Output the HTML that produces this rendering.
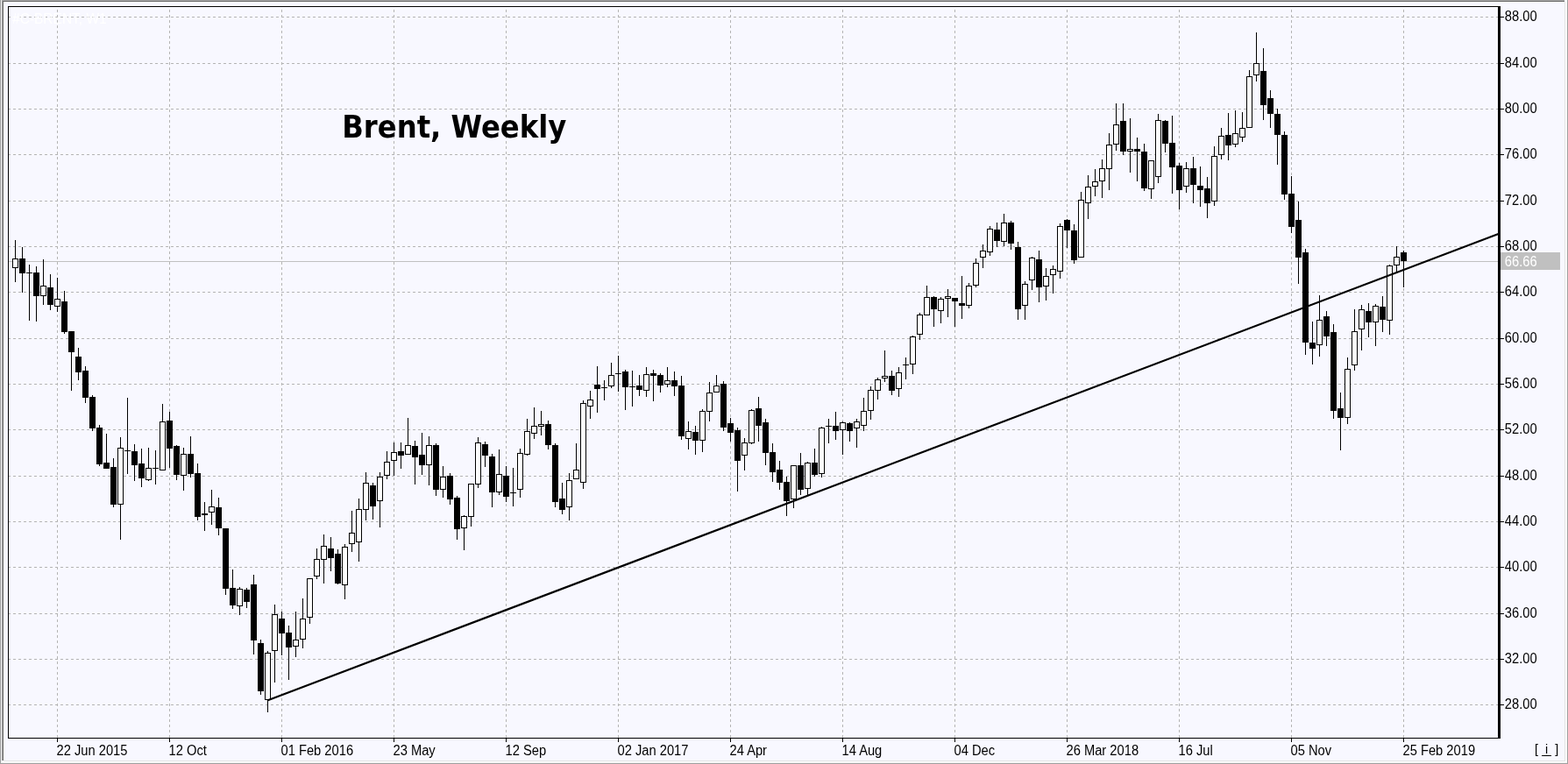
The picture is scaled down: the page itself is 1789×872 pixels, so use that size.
<!DOCTYPE html>
<html lang="en"><head><meta charset="utf-8"><title>Brent, Weekly</title>
<style>
html,body{margin:0;padding:0;background:#f8f8ff;overflow:hidden}
svg{display:block}
.ax{font-family:"Liberation Sans",Arial,sans-serif;font-size:16px;fill:#000}
.ttl{font-family:"DejaVu Sans Condensed","DejaVu Sans",sans-serif;font-weight:bold;font-size:35px;fill:#000}
</style></head><body>
<svg width="1789" height="872" viewBox="0 0 1789 872">
<rect x="0" y="0" width="1789" height="872" fill="#f8f8ff"/>
<g shape-rendering="crispEdges">
<rect x="0" y="0" width="1785" height="1" fill="#a8a8a8"/>
<rect x="3" y="1" width="1782" height="1" fill="#696969"/>
<rect x="4" y="2" width="1781" height="1" fill="#ffffff"/>
<rect x="0" y="0" width="1" height="872" fill="#a0a0a0"/>
<rect x="1" y="0" width="1" height="871" fill="#f0f0f0"/>
<rect x="2" y="1" width="1" height="867" fill="#a0a0a0"/>
<rect x="3" y="1" width="1" height="867" fill="#696969"/>
<rect x="4" y="2" width="1" height="866" fill="#ffffff"/>
<rect x="1785" y="2" width="1" height="867" fill="#e3e3e3"/>
<rect x="1786" y="0" width="2" height="871" fill="#ffffff"/>
<rect x="1788" y="0" width="1" height="872" fill="#a0a0a0"/>
<rect x="4" y="868" width="1782" height="1" fill="#e3e3e3"/>
<rect x="2" y="869" width="1786" height="1" fill="#ffffff"/>
<rect x="1" y="870" width="1787" height="1" fill="#f2f2f2"/>
<rect x="0" y="871" width="1789" height="1" fill="#a0a0a0"/>
</g>
<g shape-rendering="crispEdges" stroke="#b4b4b4" stroke-width="1" stroke-dasharray="3 3" fill="none">
<path d="M9 19.5H1709"/>
<path d="M9 72.5H1709"/>
<path d="M9 124.5H1709"/>
<path d="M9 176.5H1709"/>
<path d="M9 229.5H1709"/>
<path d="M9 281.5H1709"/>
<path d="M9 333.5H1709"/>
<path d="M9 386.5H1709"/>
<path d="M9 438.5H1709"/>
<path d="M9 490.5H1709"/>
<path d="M9 543.5H1709"/>
<path d="M9 595.5H1709"/>
<path d="M9 647.5H1709"/>
<path d="M9 700.5H1709"/>
<path d="M9 752.5H1709"/>
<path d="M9 804.5H1709"/>
<path d="M65.5 11V842"/>
<path d="M193.5 11V842"/>
<path d="M321.5 11V842"/>
<path d="M449.5 11V842"/>
<path d="M577.5 11V842"/>
<path d="M705.5 11V842"/>
<path d="M833.5 11V842"/>
<path d="M961.5 11V842"/>
<path d="M1089.5 11V842"/>
<path d="M1217.5 11V842"/>
<path d="M1345.5 11V842"/>
<path d="M1473.5 11V842"/>
<path d="M1601.5 11V842"/>
</g>
<text class="ax" transform="translate(14,27.2) scale(.97,1)" style="fill:#ffffff">#C-BRENT, W1</text>
<rect x="10" y="298" width="1699" height="1" fill="#c0c0c0" shape-rendering="crispEdges"/>
<g shape-rendering="crispEdges">
<g fill="#000"><rect x="17" y="274" width="1" height="48"/><rect x="25" y="282" width="1" height="52"/><rect x="33" y="302" width="1" height="64"/><rect x="41" y="304" width="1" height="63"/><rect x="49" y="296" width="1" height="52"/><rect x="57" y="313" width="1" height="41"/><rect x="65" y="317" width="1" height="39"/><rect x="73" y="332" width="1" height="49"/><rect x="81" y="378" width="1" height="68"/><rect x="89" y="397" width="1" height="37"/><rect x="97" y="418" width="1" height="42"/><rect x="105" y="451" width="1" height="41"/><rect x="113" y="485" width="1" height="47"/><rect x="121" y="495" width="1" height="40"/><rect x="129" y="523" width="1" height="56"/><rect x="137" y="499" width="1" height="117"/><rect x="145" y="454" width="1" height="87"/><rect x="153" y="507" width="1" height="42"/><rect x="161" y="512" width="1" height="44"/><rect x="169" y="511" width="1" height="38"/><rect x="177" y="514" width="1" height="39"/><rect x="185" y="461" width="1" height="76"/><rect x="193" y="470" width="1" height="64"/><rect x="201" y="508" width="1" height="40"/><rect x="209" y="511" width="1" height="49"/><rect x="217" y="498" width="1" height="47"/><rect x="225" y="529" width="1" height="65"/><rect x="233" y="573" width="1" height="33"/><rect x="241" y="559" width="1" height="40"/><rect x="249" y="568" width="1" height="43"/><rect x="257" y="603" width="1" height="76"/><rect x="265" y="650" width="1" height="45"/><rect x="273" y="670" width="1" height="32"/><rect x="281" y="671" width="1" height="23"/><rect x="289" y="656" width="1" height="91"/><rect x="297" y="730" width="1" height="63"/><rect x="305" y="743" width="1" height="70"/><rect x="313" y="690" width="1" height="89"/><rect x="321" y="698" width="1" height="50"/><rect x="329" y="714" width="1" height="62"/><rect x="337" y="698" width="1" height="52"/><rect x="345" y="683" width="1" height="57"/><rect x="353" y="660" width="1" height="52"/><rect x="361" y="626" width="1" height="35"/><rect x="369" y="610" width="1" height="56"/><rect x="377" y="613" width="1" height="39"/><rect x="385" y="627" width="1" height="40"/><rect x="393" y="621" width="1" height="63"/><rect x="401" y="583" width="1" height="47"/><rect x="409" y="569" width="1" height="72"/><rect x="417" y="539" width="1" height="55"/><rect x="425" y="551" width="1" height="42"/><rect x="433" y="539" width="1" height="63"/><rect x="441" y="515" width="1" height="32"/><rect x="449" y="505" width="1" height="38"/><rect x="457" y="505" width="1" height="30"/><rect x="465" y="477" width="1" height="42"/><rect x="473" y="503" width="1" height="50"/><rect x="481" y="494" width="1" height="48"/><rect x="489" y="498" width="1" height="56"/><rect x="497" y="506" width="1" height="60"/><rect x="505" y="532" width="1" height="36"/><rect x="513" y="540" width="1" height="36"/><rect x="521" y="566" width="1" height="50"/><rect x="529" y="588" width="1" height="40"/><rect x="537" y="552" width="1" height="49"/><rect x="545" y="499" width="1" height="58"/><rect x="553" y="504" width="1" height="29"/><rect x="561" y="518" width="1" height="61"/><rect x="569" y="513" width="1" height="52"/><rect x="577" y="532" width="1" height="41"/><rect x="585" y="534" width="1" height="44"/><rect x="593" y="512" width="1" height="56"/><rect x="601" y="478" width="1" height="42"/><rect x="609" y="465" width="1" height="36"/><rect x="617" y="469" width="1" height="28"/><rect x="625" y="480" width="1" height="33"/><rect x="633" y="506" width="1" height="73"/><rect x="641" y="551" width="1" height="36"/><rect x="649" y="540" width="1" height="54"/><rect x="657" y="506" width="1" height="41"/><rect x="665" y="457" width="1" height="101"/><rect x="673" y="446" width="1" height="32"/><rect x="681" y="418" width="1" height="53"/><rect x="689" y="434" width="1" height="23"/><rect x="697" y="414" width="1" height="29"/><rect x="705" y="406" width="1" height="41"/><rect x="713" y="422" width="1" height="46"/><rect x="721" y="423" width="1" height="41"/><rect x="729" y="428" width="1" height="24"/><rect x="737" y="419" width="1" height="34"/><rect x="745" y="422" width="1" height="36"/><rect x="753" y="426" width="1" height="22"/><rect x="761" y="419" width="1" height="23"/><rect x="769" y="424" width="1" height="28"/><rect x="777" y="429" width="1" height="73"/><rect x="785" y="481" width="1" height="32"/><rect x="793" y="486" width="1" height="33"/><rect x="801" y="467" width="1" height="49"/><rect x="809" y="436" width="1" height="45"/><rect x="817" y="428" width="1" height="20"/><rect x="825" y="435" width="1" height="57"/><rect x="833" y="477" width="1" height="27"/><rect x="841" y="488" width="1" height="73"/><rect x="849" y="500" width="1" height="37"/><rect x="857" y="467" width="1" height="40"/><rect x="865" y="453" width="1" height="51"/><rect x="873" y="478" width="1" height="53"/><rect x="881" y="506" width="1" height="44"/><rect x="889" y="526" width="1" height="33"/><rect x="897" y="544" width="1" height="45"/><rect x="905" y="531" width="1" height="49"/><rect x="913" y="517" width="1" height="48"/><rect x="921" y="527" width="1" height="38"/><rect x="929" y="512" width="1" height="32"/><rect x="937" y="487" width="1" height="58"/><rect x="945" y="478" width="1" height="28"/><rect x="953" y="470" width="1" height="32"/><rect x="961" y="481" width="1" height="38"/><rect x="969" y="482" width="1" height="22"/><rect x="977" y="478" width="1" height="33"/><rect x="985" y="454" width="1" height="38"/><rect x="993" y="441" width="1" height="38"/><rect x="1001" y="431" width="1" height="25"/><rect x="1009" y="400" width="1" height="36"/><rect x="1017" y="423" width="1" height="28"/><rect x="1025" y="419" width="1" height="34"/><rect x="1033" y="408" width="1" height="25"/><rect x="1041" y="383" width="1" height="44"/><rect x="1049" y="357" width="1" height="31"/><rect x="1057" y="326" width="1" height="34"/><rect x="1065" y="338" width="1" height="35"/><rect x="1073" y="339" width="1" height="30"/><rect x="1081" y="330" width="1" height="32"/><rect x="1089" y="340" width="1" height="33"/><rect x="1097" y="315" width="1" height="49"/><rect x="1105" y="323" width="1" height="29"/><rect x="1113" y="295" width="1" height="33"/><rect x="1121" y="279" width="1" height="27"/><rect x="1129" y="258" width="1" height="34"/><rect x="1137" y="254" width="1" height="28"/><rect x="1145" y="244" width="1" height="37"/><rect x="1153" y="252" width="1" height="33"/><rect x="1161" y="276" width="1" height="89"/><rect x="1169" y="321" width="1" height="44"/><rect x="1177" y="293" width="1" height="38"/><rect x="1185" y="286" width="1" height="59"/><rect x="1193" y="306" width="1" height="37"/><rect x="1201" y="303" width="1" height="32"/><rect x="1209" y="255" width="1" height="63"/><rect x="1217" y="250" width="1" height="33"/><rect x="1225" y="256" width="1" height="45"/><rect x="1233" y="219" width="1" height="75"/><rect x="1241" y="200" width="1" height="50"/><rect x="1249" y="193" width="1" height="31"/><rect x="1257" y="182" width="1" height="44"/><rect x="1265" y="152" width="1" height="65"/><rect x="1273" y="118" width="1" height="54"/><rect x="1281" y="118" width="1" height="59"/><rect x="1289" y="135" width="1" height="62"/><rect x="1297" y="157" width="1" height="50"/><rect x="1305" y="164" width="1" height="54"/><rect x="1313" y="183" width="1" height="44"/><rect x="1321" y="130" width="1" height="79"/><rect x="1329" y="137" width="1" height="37"/><rect x="1337" y="132" width="1" height="89"/><rect x="1345" y="186" width="1" height="53"/><rect x="1353" y="185" width="1" height="35"/><rect x="1361" y="179" width="1" height="53"/><rect x="1369" y="190" width="1" height="46"/><rect x="1377" y="202" width="1" height="47"/><rect x="1385" y="167" width="1" height="68"/><rect x="1393" y="146" width="1" height="36"/><rect x="1401" y="129" width="1" height="54"/><rect x="1409" y="126" width="1" height="42"/><rect x="1417" y="128" width="1" height="34"/><rect x="1425" y="80" width="1" height="66"/><rect x="1433" y="37" width="1" height="56"/><rect x="1441" y="55" width="1" height="82"/><rect x="1449" y="103" width="1" height="43"/><rect x="1457" y="124" width="1" height="64"/><rect x="1465" y="150" width="1" height="78"/><rect x="1473" y="201" width="1" height="65"/><rect x="1481" y="230" width="1" height="94"/><rect x="1489" y="284" width="1" height="121"/><rect x="1497" y="367" width="1" height="49"/><rect x="1505" y="337" width="1" height="70"/><rect x="1513" y="355" width="1" height="40"/><rect x="1521" y="370" width="1" height="108"/><rect x="1529" y="448" width="1" height="66"/><rect x="1537" y="408" width="1" height="76"/><rect x="1545" y="353" width="1" height="70"/><rect x="1553" y="348" width="1" height="52"/><rect x="1561" y="346" width="1" height="39"/><rect x="1569" y="347" width="1" height="48"/><rect x="1577" y="338" width="1" height="41"/><rect x="1585" y="302" width="1" height="80"/><rect x="1593" y="281" width="1" height="31"/><rect x="1601" y="286" width="1" height="42"/></g>
<g fill="#000"><rect x="22" y="295" width="7" height="17"/><rect x="30" y="311" width="7" height="1"/><rect x="38" y="311" width="7" height="27"/><rect x="54" y="328" width="7" height="20"/><rect x="70" y="344" width="7" height="35"/><rect x="78" y="378" width="7" height="24"/><rect x="86" y="407" width="7" height="18"/><rect x="94" y="423" width="7" height="31"/><rect x="102" y="453" width="7" height="36"/><rect x="110" y="488" width="7" height="42"/><rect x="118" y="528" width="7" height="7"/><rect x="126" y="533" width="7" height="43"/><rect x="142" y="514" width="7" height="1"/><rect x="150" y="515" width="7" height="16"/><rect x="158" y="529" width="7" height="17"/><rect x="174" y="534" width="7" height="1"/><rect x="190" y="480" width="7" height="32"/><rect x="198" y="509" width="7" height="33"/><rect x="214" y="518" width="7" height="23"/><rect x="222" y="540" width="7" height="50"/><rect x="230" y="586" width="7" height="2"/><rect x="246" y="579" width="7" height="24"/><rect x="254" y="603" width="7" height="69"/><rect x="262" y="671" width="7" height="20"/><rect x="278" y="673" width="7" height="14"/><rect x="286" y="667" width="7" height="64"/><rect x="294" y="734" width="7" height="55"/><rect x="318" y="706" width="7" height="17"/><rect x="326" y="722" width="7" height="17"/><rect x="374" y="626" width="7" height="11"/><rect x="382" y="632" width="7" height="34"/><rect x="422" y="554" width="7" height="24"/><rect x="454" y="515" width="7" height="5"/><rect x="470" y="509" width="7" height="13"/><rect x="478" y="519" width="7" height="12"/><rect x="494" y="508" width="7" height="51"/><rect x="510" y="543" width="7" height="27"/><rect x="518" y="568" width="7" height="36"/><rect x="550" y="507" width="7" height="13"/><rect x="558" y="521" width="7" height="41"/><rect x="574" y="543" width="7" height="24"/><rect x="582" y="562" width="7" height="1"/><rect x="622" y="484" width="7" height="24"/><rect x="630" y="508" width="7" height="65"/><rect x="638" y="569" width="7" height="13"/><rect x="678" y="439" width="7" height="5"/><rect x="686" y="442" width="7" height="1"/><rect x="702" y="426" width="7" height="1"/><rect x="710" y="424" width="7" height="18"/><rect x="718" y="441" width="7" height="1"/><rect x="726" y="440" width="7" height="5"/><rect x="742" y="426" width="7" height="3"/><rect x="750" y="428" width="7" height="12"/><rect x="766" y="434" width="7" height="7"/><rect x="774" y="440" width="7" height="58"/><rect x="790" y="493" width="7" height="10"/><rect x="822" y="438" width="7" height="50"/><rect x="830" y="483" width="7" height="11"/><rect x="838" y="491" width="7" height="35"/><rect x="862" y="466" width="7" height="20"/><rect x="870" y="482" width="7" height="35"/><rect x="878" y="516" width="7" height="23"/><rect x="886" y="536" width="7" height="15"/><rect x="894" y="550" width="7" height="22"/><rect x="910" y="531" width="7" height="28"/><rect x="926" y="528" width="7" height="14"/><rect x="942" y="486" width="7" height="1"/><rect x="950" y="486" width="7" height="6"/><rect x="966" y="483" width="7" height="9"/><rect x="1014" y="429" width="7" height="17"/><rect x="1030" y="416" width="7" height="1"/><rect x="1062" y="339" width="7" height="14"/><rect x="1086" y="340" width="7" height="4"/><rect x="1094" y="346" width="7" height="3"/><rect x="1134" y="262" width="7" height="13"/><rect x="1150" y="254" width="7" height="24"/><rect x="1158" y="282" width="7" height="71"/><rect x="1182" y="296" width="7" height="32"/><rect x="1214" y="251" width="7" height="12"/><rect x="1222" y="263" width="7" height="34"/><rect x="1278" y="138" width="7" height="35"/><rect x="1294" y="170" width="7" height="3"/><rect x="1302" y="173" width="7" height="42"/><rect x="1326" y="138" width="7" height="26"/><rect x="1334" y="163" width="7" height="28"/><rect x="1342" y="189" width="7" height="28"/><rect x="1358" y="192" width="7" height="19"/><rect x="1366" y="212" width="7" height="5"/><rect x="1374" y="215" width="7" height="17"/><rect x="1398" y="154" width="7" height="12"/><rect x="1438" y="81" width="7" height="39"/><rect x="1446" y="112" width="7" height="18"/><rect x="1454" y="130" width="7" height="24"/><rect x="1462" y="154" width="7" height="68"/><rect x="1470" y="221" width="7" height="38"/><rect x="1478" y="251" width="7" height="43"/><rect x="1486" y="288" width="7" height="103"/><rect x="1494" y="391" width="7" height="7"/><rect x="1510" y="361" width="7" height="23"/><rect x="1518" y="379" width="7" height="90"/><rect x="1526" y="466" width="7" height="11"/><rect x="1558" y="355" width="7" height="13"/><rect x="1574" y="350" width="7" height="15"/><rect x="1598" y="288" width="7" height="10"/></g>
<g fill="#fff" stroke="#000" stroke-width="1"><rect x="14.5" y="295.5" width="6" height="10"/><rect x="46.5" y="326.5" width="6" height="11"/><rect x="62.5" y="341.5" width="6" height="8"/><rect x="134.5" y="511.5" width="6" height="64"/><rect x="166.5" y="534.5" width="6" height="13"/><rect x="182.5" y="481.5" width="6" height="55"/><rect x="206.5" y="518.5" width="6" height="24"/><rect x="238.5" y="578.5" width="6" height="6"/><rect x="270.5" y="672.5" width="6" height="19"/><rect x="302.5" y="745.5" width="6" height="53"/><rect x="310.5" y="701.5" width="6" height="41"/><rect x="334.5" y="730.5" width="6" height="7"/><rect x="342.5" y="706.5" width="6" height="23"/><rect x="350.5" y="660.5" width="6" height="44"/><rect x="358.5" y="638.5" width="6" height="19"/><rect x="366.5" y="623.5" width="6" height="15"/><rect x="390.5" y="624.5" width="6" height="43"/><rect x="398.5" y="608.5" width="6" height="12"/><rect x="406.5" y="581.5" width="6" height="37"/><rect x="414.5" y="551.5" width="6" height="30"/><rect x="430.5" y="544.5" width="6" height="27"/><rect x="438.5" y="527.5" width="6" height="15"/><rect x="446.5" y="516.5" width="6" height="9"/><rect x="462.5" y="508.5" width="6" height="10"/><rect x="486.5" y="508.5" width="6" height="22"/><rect x="502.5" y="544.5" width="6" height="14"/><rect x="526.5" y="589.5" width="6" height="13"/><rect x="534.5" y="552.5" width="6" height="37"/><rect x="542.5" y="505.5" width="6" height="47"/><rect x="566.5" y="541.5" width="6" height="20"/><rect x="590.5" y="517.5" width="6" height="41"/><rect x="598.5" y="492.5" width="6" height="26"/><rect x="606.5" y="486.5" width="6" height="8"/><rect x="614.5" y="484.5" width="6" height="2"/><rect x="646.5" y="548.5" width="6" height="30"/><rect x="654.5" y="536.5" width="6" height="10"/><rect x="662.5" y="460.5" width="6" height="90"/><rect x="670.5" y="456.5" width="6" height="7"/><rect x="694.5" y="428.5" width="6" height="12"/><rect x="734.5" y="427.5" width="6" height="18"/><rect x="758.5" y="434.5" width="6" height="4"/><rect x="782.5" y="492.5" width="6" height="8"/><rect x="798.5" y="469.5" width="6" height="33"/><rect x="806.5" y="448.5" width="6" height="21"/><rect x="814.5" y="440.5" width="6" height="7"/><rect x="846.5" y="505.5" width="6" height="14"/><rect x="854.5" y="468.5" width="6" height="37"/><rect x="902.5" y="531.5" width="6" height="38"/><rect x="918.5" y="528.5" width="6" height="29"/><rect x="934.5" y="488.5" width="6" height="52"/><rect x="958.5" y="482.5" width="6" height="8"/><rect x="974.5" y="481.5" width="6" height="7"/><rect x="982.5" y="469.5" width="6" height="16"/><rect x="990.5" y="445.5" width="6" height="23"/><rect x="998.5" y="433.5" width="6" height="12"/><rect x="1006.5" y="429.5" width="6" height="2"/><rect x="1022.5" y="425.5" width="6" height="18"/><rect x="1038.5" y="384.5" width="6" height="31"/><rect x="1046.5" y="359.5" width="6" height="22"/><rect x="1054.5" y="339.5" width="6" height="20"/><rect x="1070.5" y="341.5" width="6" height="13"/><rect x="1078.5" y="338.5" width="6" height="2"/><rect x="1102.5" y="326.5" width="6" height="22"/><rect x="1110.5" y="300.5" width="6" height="25"/><rect x="1118.5" y="286.5" width="6" height="7"/><rect x="1126.5" y="261.5" width="6" height="26"/><rect x="1142.5" y="254.5" width="6" height="21"/><rect x="1166.5" y="324.5" width="6" height="24"/><rect x="1174.5" y="294.5" width="6" height="25"/><rect x="1190.5" y="315.5" width="6" height="11"/><rect x="1198.5" y="307.5" width="6" height="6"/><rect x="1206.5" y="258.5" width="6" height="51"/><rect x="1230.5" y="228.5" width="6" height="65"/><rect x="1238.5" y="213.5" width="6" height="18"/><rect x="1246.5" y="207.5" width="6" height="5"/><rect x="1254.5" y="192.5" width="6" height="14"/><rect x="1262.5" y="165.5" width="6" height="27"/><rect x="1270.5" y="142.5" width="6" height="22"/><rect x="1286.5" y="170.5" width="6" height="2"/><rect x="1310.5" y="183.5" width="6" height="32"/><rect x="1318.5" y="137.5" width="6" height="64"/><rect x="1350.5" y="192.5" width="6" height="20"/><rect x="1382.5" y="178.5" width="6" height="51"/><rect x="1390.5" y="155.5" width="6" height="21"/><rect x="1406.5" y="152.5" width="6" height="12"/><rect x="1414.5" y="146.5" width="6" height="10"/><rect x="1422.5" y="87.5" width="6" height="58"/><rect x="1430.5" y="72.5" width="6" height="13"/><rect x="1502.5" y="365.5" width="6" height="28"/><rect x="1534.5" y="421.5" width="6" height="55"/><rect x="1542.5" y="378.5" width="6" height="38"/><rect x="1550.5" y="353.5" width="6" height="22"/><rect x="1566.5" y="349.5" width="6" height="18"/><rect x="1582.5" y="303.5" width="6" height="62"/><rect x="1590.5" y="293.5" width="6" height="9"/></g>
</g>
<line x1="305" y1="799.5" x2="1709.5" y2="267" stroke="#000" stroke-width="2.2"/>
<g shape-rendering="crispEdges" fill="#000">
<rect x="9" y="7" width="1701" height="1"/>
<rect x="9" y="7" width="1" height="836"/>
<rect x="9" y="842" width="1703" height="1"/>
<rect x="1709" y="7" width="3" height="836"/>
<rect x="1712" y="19" width="4" height="1"/>
<rect x="1712" y="72" width="4" height="1"/>
<rect x="1712" y="124" width="4" height="1"/>
<rect x="1712" y="176" width="4" height="1"/>
<rect x="1712" y="229" width="4" height="1"/>
<rect x="1712" y="281" width="4" height="1"/>
<rect x="1712" y="333" width="4" height="1"/>
<rect x="1712" y="386" width="4" height="1"/>
<rect x="1712" y="438" width="4" height="1"/>
<rect x="1712" y="490" width="4" height="1"/>
<rect x="1712" y="543" width="4" height="1"/>
<rect x="1712" y="595" width="4" height="1"/>
<rect x="1712" y="647" width="4" height="1"/>
<rect x="1712" y="700" width="4" height="1"/>
<rect x="1712" y="752" width="4" height="1"/>
<rect x="1712" y="804" width="4" height="1"/>
<rect x="65" y="843" width="1" height="4"/>
<rect x="193" y="843" width="1" height="4"/>
<rect x="321" y="843" width="1" height="4"/>
<rect x="449" y="843" width="1" height="4"/>
<rect x="577" y="843" width="1" height="4"/>
<rect x="705" y="843" width="1" height="4"/>
<rect x="833" y="843" width="1" height="4"/>
<rect x="961" y="843" width="1" height="4"/>
<rect x="1089" y="843" width="1" height="4"/>
<rect x="1217" y="843" width="1" height="4"/>
<rect x="1345" y="843" width="1" height="4"/>
<rect x="1473" y="843" width="1" height="4"/>
<rect x="1601" y="843" width="1" height="4"/>
</g>
<g class="ax">
<text transform="translate(1716.8,24.4) scale(.92,1)">88.00</text>
<text transform="translate(1716.8,77.4) scale(.92,1)">84.00</text>
<text transform="translate(1716.8,129.4) scale(.92,1)">80.00</text>
<text transform="translate(1716.8,181.4) scale(.92,1)">76.00</text>
<text transform="translate(1716.8,234.4) scale(.92,1)">72.00</text>
<text transform="translate(1716.8,286.4) scale(.92,1)">68.00</text>
<text transform="translate(1716.8,338.4) scale(.92,1)">64.00</text>
<text transform="translate(1716.8,391.4) scale(.92,1)">60.00</text>
<text transform="translate(1716.8,443.4) scale(.92,1)">56.00</text>
<text transform="translate(1716.8,495.4) scale(.92,1)">52.00</text>
<text transform="translate(1716.8,548.4) scale(.92,1)">48.00</text>
<text transform="translate(1716.8,600.4) scale(.92,1)">44.00</text>
<text transform="translate(1716.8,652.4) scale(.92,1)">40.00</text>
<text transform="translate(1716.8,705.4) scale(.92,1)">36.00</text>
<text transform="translate(1716.8,757.4) scale(.92,1)">32.00</text>
<text transform="translate(1716.8,809.4) scale(.92,1)">28.00</text>
</g>
<rect x="1712" y="288" width="68" height="20" fill="#c0c0c0" shape-rendering="crispEdges"/>
<text class="ax" transform="translate(1716.8,303.6) scale(.92,1)" style="fill:#ffffff">66.66</text>
<g class="ax">
<text transform="translate(64.5,862) scale(.92,1)">22 Jun 2015</text>
<text transform="translate(192.5,862) scale(.92,1)">12 Oct</text>
<text transform="translate(320.5,862) scale(.92,1)">01 Feb 2016</text>
<text transform="translate(448.5,862) scale(.92,1)">23 May</text>
<text transform="translate(576.5,862) scale(.92,1)">12 Sep</text>
<text transform="translate(704.5,862) scale(.92,1)">02 Jan 2017</text>
<text transform="translate(832.5,862) scale(.92,1)">24 Apr</text>
<text transform="translate(960.5,862) scale(.92,1)">14 Aug</text>
<text transform="translate(1088.5,862) scale(.92,1)">04 Dec</text>
<text transform="translate(1216.5,862) scale(.92,1)">26 Mar 2018</text>
<text transform="translate(1344.5,862) scale(.92,1)">16 Jul</text>
<text transform="translate(1472.5,862) scale(.92,1)">05 Nov</text>
<text transform="translate(1600.5,862) scale(.92,1)">25 Feb 2019</text>
</g>
<g class="ax" style="font-size:15px"><text transform="translate(1751,860) scale(.95,1)">[</text>
<text transform="translate(1762.9,860) scale(.95,1)">i</text>
<text transform="translate(1774.3,860) scale(.95,1)">]</text></g>
<rect x="1759" y="862" width="11" height="1" fill="#000" shape-rendering="crispEdges"/>
<text class="ttl" transform="translate(390.2,157) scale(1.026,1)">Brent, Weekly</text>
</svg></body></html>
